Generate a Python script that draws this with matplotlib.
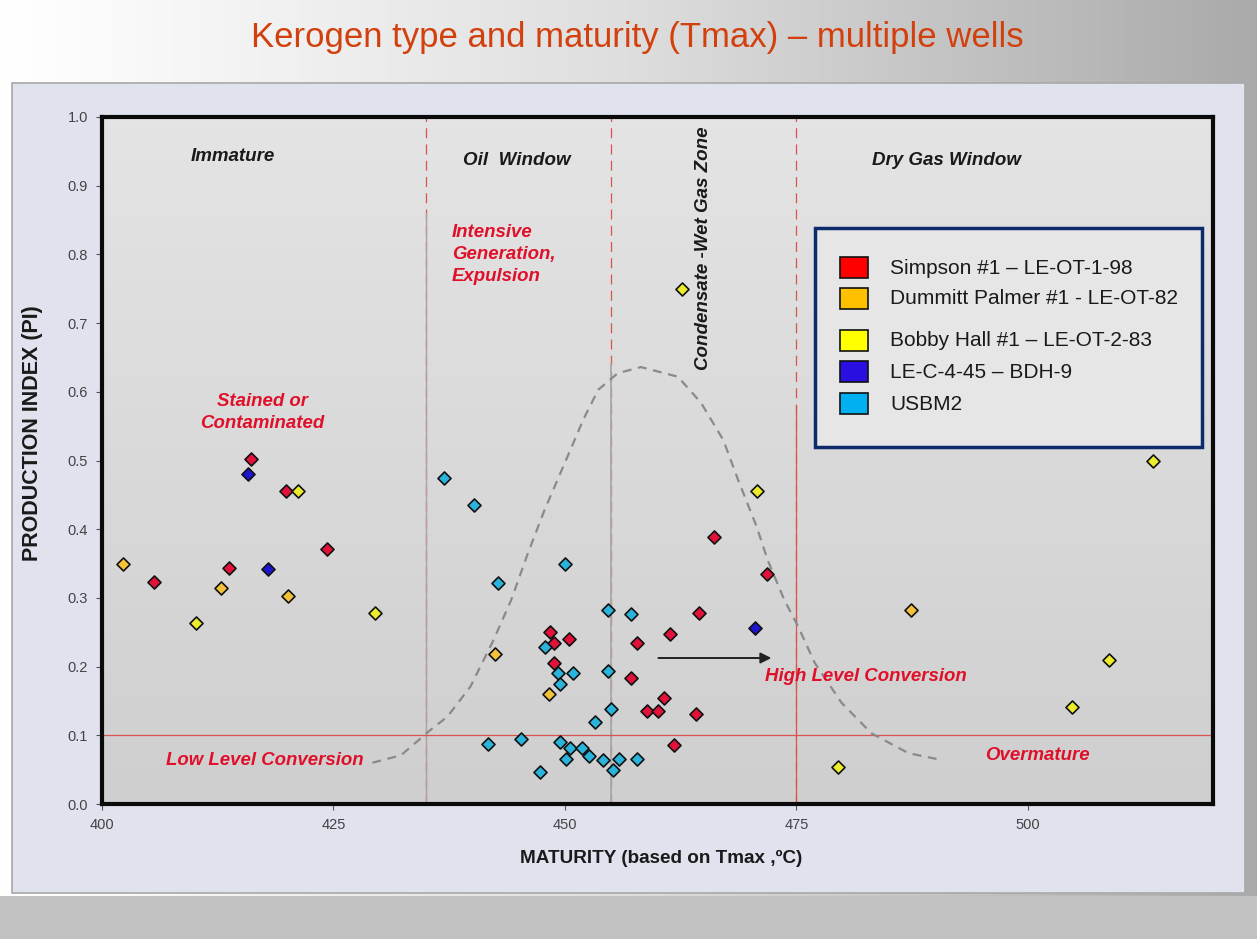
import matplotlib
matplotlib.use("Agg")
import matplotlib.pyplot as plt
import matplotlib.patches as mpatches
from matplotlib.colors import LinearSegmentedColormap
import numpy as np

# ── data ────────────────────────────────────────────────────
simpson_tmax = [405.6, 413.7, 416.1, 419.9, 424.3, 466.1, 471.8, 464.5, 448.4, 448.8,
                450.4, 457.8, 461.3, 448.8, 457.1, 460.7, 458.9, 460.1, 464.2, 461.8]
simpson_pi = [0.323, 0.343, 0.502, 0.456, 0.371, 0.389, 0.335, 0.278, 0.251, 0.235,
              0.240, 0.235, 0.247, 0.205, 0.183, 0.155, 0.136, 0.136, 0.131, 0.086]

dummitt_tmax = [402.3, 412.8, 420.1, 442.5, 448.3, 487.4]
dummitt_pi = [0.350, 0.315, 0.303, 0.219, 0.160, 0.282]

bobby_tmax = [410.1, 421.2, 429.5, 470.8, 462.6, 479.5, 504.8, 508.8, 513.5]
bobby_pi = [0.264, 0.456, 0.278, 0.456, 0.750, 0.054, 0.141, 0.210, 0.500]

bdh_tmax = [415.8, 417.9, 470.5]
bdh_pi = [0.481, 0.342, 0.256]

usbm_tmax = [436.9, 440.2, 450.0, 442.8, 454.7, 457.1, 447.8, 449.2, 450.9, 454.7,
             449.5, 455.0, 453.2, 441.7, 445.3, 449.5, 450.6, 451.8, 452.6, 450.1,
             454.1, 455.8, 457.8, 455.2, 447.3]
usbm_pi = [0.474, 0.435, 0.349, 0.322, 0.282, 0.277, 0.228, 0.190, 0.190, 0.193,
           0.175, 0.139, 0.120, 0.087, 0.094, 0.090, 0.081, 0.082, 0.070, 0.065,
           0.064, 0.065, 0.065, 0.049, 0.047]

# sketched generation "bell" curve
curve_tmax = [429.2, 432.3, 435.5, 437.3, 439.8, 442.3, 444.2, 446.0, 447.8, 450.1,
              452.0, 453.6, 455.7, 458.2, 462.2, 464.7, 467.1, 468.7, 470.7, 471.9,
              473.7, 475.2, 477.0, 479.9, 483.1, 487.1, 490.7]
curve_pi = [0.060, 0.071, 0.108, 0.127, 0.171, 0.239, 0.297, 0.365, 0.428, 0.500,
            0.560, 0.603, 0.627, 0.636, 0.622, 0.584, 0.530, 0.472, 0.404, 0.355,
            0.297, 0.258, 0.205, 0.147, 0.103, 0.074, 0.064]

zone_bounds = [435, 455, 475]
pi_cutoff = 0.1
arrow_tmax = [459.8, 472.6]
arrow_pi = 0.2125

x_ticks = [400, 425, 450, 475, 500]
y_ticks = [0.0, 0.1, 0.2, 0.3, 0.4, 0.5, 0.6, 0.7, 0.8, 0.9, 1.0]

series = [
    ("Simpson #1 \u2013 LE-OT-1-98", simpson_tmax, simpson_pi, "#e3123a", "#ff0000"),
    ("Dummitt Palmer #1 - LE-OT-82", dummitt_tmax, dummitt_pi, "#f3c238", "#ffc000"),
    ("Bobby Hall #1 \u2013 LE-OT-2-83", bobby_tmax, bobby_pi, "#ecec2c", "#ffff00"),
    ("LE-C-4-45 \u2013 BDH-9", bdh_tmax, bdh_pi, "#1c16d0", "#2a10e0"),
    ("USBM2", usbm_tmax, usbm_pi, "#2ab4dc", "#00b0f0"),
]

W, H = 1257, 939
RED_TXT = "#e0102a"
DARK_TXT = "#1a1a1a"
plt.rcParams["font.family"] = ["Liberation Sans", "DejaVu Sans"]


def fx(px):
    return px / W


def fy(py):
    return 1 - py / H


fig = plt.figure(figsize=(W / 100, H / 100), dpi=100)

# ── slide background ────────────────────────────────────────
bg = fig.add_axes([0, 0, 1, 1], zorder=-10)
head_cmap = LinearSegmentedColormap.from_list(
    "head", [(0, "#ffffff"), (0.06, "#fcfcfc"), (0.5, "#dedede"), (1, "#aaaaaa")])
bg.imshow(np.linspace(0, 1, 256)[None, :], aspect="auto", cmap=head_cmap,
          extent=[0, 1, 0, 1])
bg.add_patch(mpatches.Rectangle((fx(12), fy(893)), fx(1245) - fx(12), fy(83) - fy(893),
                                facecolor="#e0e2ee", edgecolor="#a8a8a8", lw=1.2))
bg.add_patch(mpatches.Rectangle((0, 0), 1, fy(896), facecolor="#c2c2c2", edgecolor="none"))
bg.set_xlim(0, 1)
bg.set_ylim(0, 1)
bg.axis("off")

fig.text(0.507, fy(38), "Kerogen type and maturity (Tmax) \u2013 multiple wells",
         ha="center", va="center", fontsize=25, color="#d2400e")

# ── main plot ───────────────────────────────────────────────
ax = fig.add_axes([fx(102), fy(804), fx(1213) - fx(102), fy(117) - fy(804)])
ax.set_xlim(400, 520)
ax.set_ylim(0, 1)
plot_cmap = LinearSegmentedColormap.from_list("plotbg", ["#e4e4e4", "#cfcfcf"])
ax.imshow(np.linspace(0, 1, 100)[:, None], aspect="auto", cmap=plot_cmap,
          extent=[400, 520, 0, 1], origin="upper", zorder=0)

for xb in zone_bounds:
    ax.axvline(xb, color="#d9534f", lw=0.9, ls=(0, (8, 5)), zorder=1)
ax.plot([435, 435], [0, 0.86], color="#b0a0a0", lw=1.0, zorder=1)
ax.plot([455, 455], [0, 0.64], color="#a8a8a8", lw=1.3, zorder=1)
ax.plot([475, 475], [0, 0.58], color="#d9534f", lw=0.9, zorder=1)
ax.axhline(pi_cutoff, color="#d9534f", lw=0.9, zorder=1)

ax.plot(curve_tmax, curve_pi, color="#8a8a8a", lw=1.6, ls=(0, (4, 3)), zorder=2)

ax.annotate("", xy=(arrow_tmax[1], arrow_pi), xytext=(arrow_tmax[0], arrow_pi),
            arrowprops=dict(arrowstyle="-|>", color="#222222", lw=1.4,
                            mutation_scale=16), zorder=3)

for name, xs, ys, mcol, _ in series:
    ax.scatter(xs, ys, marker="D", s=44, color=mcol, edgecolors="#111111",
               linewidths=1.2, zorder=5)

# zone labels
lab = dict(fontsize=13.5, fontweight="bold", style="italic", color=DARK_TXT)
ax.text(414.1, 0.943, "Immature", ha="center", va="center", **lab)
ax.text(444.8, 0.937, "Oil  Window", ha="center", va="center", **lab)
ax.text(491.2, 0.937, "Dry Gas Window", ha="center", va="center", **lab)
ax.text(465.0, 0.809, "Condensate -Wet Gas Zone", ha="center", va="center",
        rotation=90, **lab)

red = dict(fontsize=13.4, fontweight="bold", style="italic", color=RED_TXT)
ax.text(437.8, 0.800, "Intensive\nGeneration,\nExpulsion", ha="left", va="center",
        linespacing=1.4, **red)
ax.text(417.3, 0.570, "Stained or\nContaminated", ha="center", va="center",
        linespacing=1.4, **red)
ax.text(417.6, 0.063, "Low Level Conversion", ha="center", va="center", **red)
ax.text(482.5, 0.185, "High Level Conversion", ha="center", va="center", **red)
ax.text(501.0, 0.070, "Overmature", ha="center", va="center", **red)

ax.set_xticks(x_ticks)
ax.set_yticks(y_ticks)
ax.set_yticklabels([f"{v:.1f}" for v in y_ticks])
ax.tick_params(direction="out", length=4, width=0.8, colors="#555555",
               labelsize=10.5, labelcolor="#444444", pad=6)
for spine in ax.spines.values():
    spine.set_linewidth(3)
    spine.set_edgecolor("#0a0a0a")
    spine.set_zorder(6)

fig.text(fx(661), fy(858), "MATURITY (based on Tmax ,\u00baC)", ha="center", va="center",
         fontsize=13.6, fontweight="bold", color="#1a1a1a")
fig.text(fx(33), fy(433), "PRODUCTION INDEX (PI)", ha="center", va="center",
         rotation=90, fontsize=15.5, fontweight="bold", color="#1a1a1a")

# ── legend box ──────────────────────────────────────────────
fig.patches.append(mpatches.Rectangle((fx(815), fy(447)), fx(1202) - fx(815), fy(228) - fy(447),
                                      transform=fig.transFigure, facecolor="#e6e6e6",
                                      edgecolor="#0d2a6c", lw=2.5, zorder=7))
rows = [268, 299, 341, 372, 404]
for (name, _, _, _, pcol), ry in zip(series, rows):
    fig.patches.append(mpatches.Rectangle((fx(840), fy(ry + 10)), fx(28), 21 / H,
                                          transform=fig.transFigure, facecolor=pcol,
                                          edgecolor="#111111", lw=1.2, zorder=8))
    fig.text(fx(890), fy(ry), name, ha="left", va="center", fontsize=15,
             color="#1a1a1a", zorder=8)

fig.savefig("out.png", dpi=100)
